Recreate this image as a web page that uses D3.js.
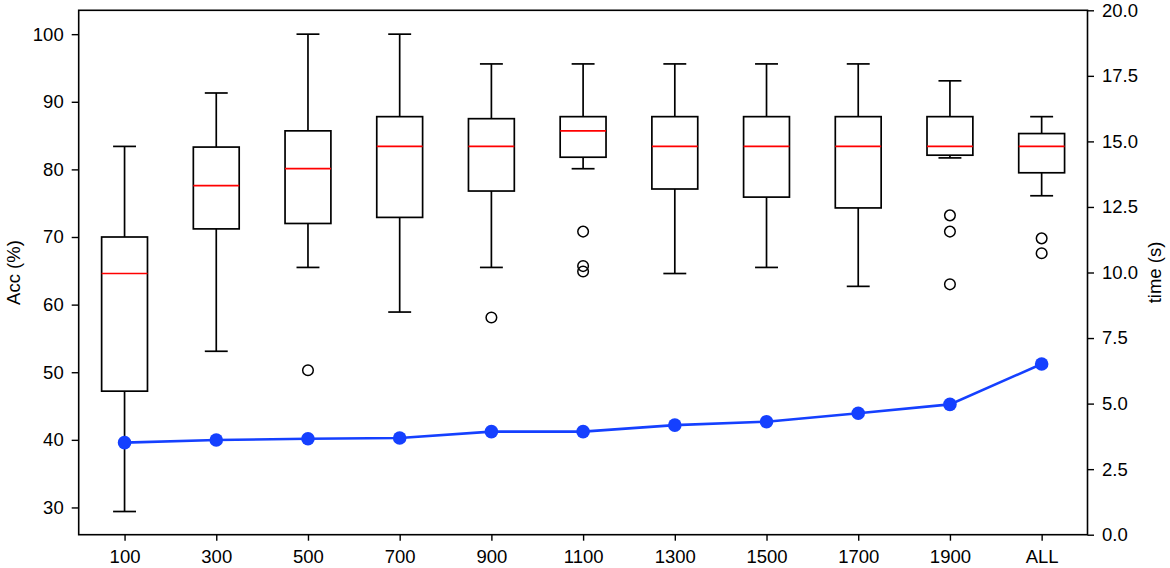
<!DOCTYPE html>
<html>
<head>
<meta charset="utf-8">
<script src="https://cdn.jsdelivr.net/npm/d3@7"></script>
<style>
  html, body { margin: 0; padding: 0; background: #fff; }
  svg { display: block; }
  text { font-family: "Liberation Sans", Arial, Helvetica, sans-serif; }
</style>
</head>
<body>
<svg id="chart" width="1170" height="568"></svg>
<script>
// ---- data ----
const categories = ["100", "300", "500", "700", "900", "1100", "1300", "1500", "1700", "1900", "ALL"];
const whiskerLow  = [29.4, 53.1, 65.5, 58.9, 65.5, 80.1, 64.6, 65.5, 62.7, 81.7, 76.1];
const q1          = [47.2, 71.2, 72.0, 72.9, 76.8, 81.8, 77.1, 75.9, 74.3, 82.1, 79.5];
const median      = [64.6, 77.6, 80.1, 83.4, 83.4, 85.7, 83.4, 83.4, 83.4, 83.4, 83.4];
const q3          = [70.0, 83.3, 85.7, 87.8, 87.5, 87.8, 87.8, 87.8, 87.8, 87.8, 85.3];
const whiskerHigh = [83.4, 91.3, 100.0, 100.0, 95.6, 95.6, 95.6, 95.6, 95.6, 93.1, 87.8];
const outliers    = [[], [], [50.3], [], [58.1], [70.8, 65.7, 64.9], [], [], [], [73.2, 70.8, 63.0], [69.8, 67.6]];
const timeValues  = [3.51, 3.61, 3.66, 3.69, 3.93, 3.93, 4.18, 4.31, 4.63, 4.97, 6.51];
const accTicks  = [30, 40, 50, 60, 70, 80, 90, 100];
const timeTicks = [0, 2.5, 5, 7.5, 10, 12.5, 15, 17.5, 20];

// ---- layout ----
const L = 78.7, R = 1087.5, T = 10.3, B = 534.7;
const svg = d3.select("#chart");

const x = d3.scaleLinear().domain([0.5, categories.length + 0.5]).range([L, R]);
const yAcc = d3.scaleLinear().domain([25.97, 103.53]).range([B, T]);
const yTime = d3.scaleLinear().domain([0, 20]).range([B, T]);

const boxW = 0.5, capW = 0.25;
const sw = 1.7;
const g = svg.append("g");

categories.forEach((c, i) => {
  const cx = x(i + 1);
  const bw = x(boxW) - x(0);
  const cw = x(capW) - x(0);
  const gi = g.append("g");
  // whiskers
  gi.append("line").attr("x1", cx).attr("x2", cx).attr("y1", yAcc(q1[i])).attr("y2", yAcc(whiskerLow[i]))
    .attr("stroke", "#000").attr("stroke-width", sw);
  gi.append("line").attr("x1", cx).attr("x2", cx).attr("y1", yAcc(q3[i])).attr("y2", yAcc(whiskerHigh[i]))
    .attr("stroke", "#000").attr("stroke-width", sw);
  // caps
  [whiskerLow[i], whiskerHigh[i]].forEach(v => {
    gi.append("line").attr("x1", cx - cw / 2).attr("x2", cx + cw / 2).attr("y1", yAcc(v)).attr("y2", yAcc(v))
      .attr("stroke", "#000").attr("stroke-width", sw);
  });
  // box
  gi.append("rect").attr("x", cx - bw / 2).attr("width", bw)
    .attr("y", yAcc(q3[i])).attr("height", yAcc(q1[i]) - yAcc(q3[i]))
    .attr("fill", "none").attr("stroke", "#000").attr("stroke-width", sw);
  // median
  gi.append("line").attr("x1", cx - bw / 2).attr("x2", cx + bw / 2).attr("y1", yAcc(median[i])).attr("y2", yAcc(median[i]))
    .attr("stroke", "#ff0000").attr("stroke-width", sw);
  // outliers
  outliers[i].forEach(v => {
    gi.append("circle").attr("cx", cx).attr("cy", yAcc(v)).attr("r", 5.3)
      .attr("fill", "none").attr("stroke", "#000").attr("stroke-width", 1.5);
  });
});

// time line
const lineColor = "#1540ff";
const line = d3.line().x((d, i) => x(i + 1)).y(d => yTime(d));
svg.append("path").datum(timeValues).attr("d", line)
  .attr("fill", "none").attr("stroke", lineColor).attr("stroke-width", 2.6);
svg.selectAll("circle.pt").data(timeValues).enter().append("circle").attr("class", "pt")
  .attr("cx", (d, i) => x(i + 1)).attr("cy", d => yTime(d)).attr("r", 6.8).attr("fill", lineColor);

// frame
svg.append("rect").attr("x", L).attr("y", T).attr("width", R - L).attr("height", B - T)
  .attr("fill", "none").attr("stroke", "#000").attr("stroke-width", 1.6);

// axes
const fontSize = "18.5px";
const xAxis = d3.axisBottom(x).tickValues(d3.range(1, categories.length + 1))
  .tickFormat(d => categories[d - 1]).tickSize(6).tickPadding(9);
const gx = svg.append("g").attr("transform", `translate(0,${B})`).call(xAxis);

const leftAxis = d3.axisLeft(yAcc).tickValues(accTicks).tickFormat(d3.format("d")).tickSize(7).tickPadding(8);
const gl = svg.append("g").attr("transform", `translate(${L},0)`).call(leftAxis);

const rightAxis = d3.axisRight(yTime).tickValues(timeTicks).tickFormat(d3.format(".1f")).tickSize(6.5).tickPadding(8);
const gr = svg.append("g").attr("transform", `translate(${R},0)`).call(rightAxis);

[gx, gl, gr].forEach(ga => {
  ga.select(".domain").remove();
  ga.selectAll(".tick line").attr("stroke", "#000").attr("stroke-width", 1.4);
  ga.selectAll(".tick text").attr("fill", "#000").style("font-size", fontSize)
    .style("font-family", '"Liberation Sans", Arial, sans-serif');
});

// axis labels
svg.append("text").attr("transform", `translate(15,${(T + B) / 2}) rotate(-90)`)
  .attr("text-anchor", "middle").attr("dominant-baseline", "middle")
  .style("font-size", fontSize).text("Acc (%)");
svg.append("text").attr("transform", `translate(1156,${(T + B) / 2}) rotate(-90)`)
  .attr("text-anchor", "middle").attr("dominant-baseline", "middle")
  .style("font-size", fontSize).text("time (s)");
</script>
</body>
</html>
